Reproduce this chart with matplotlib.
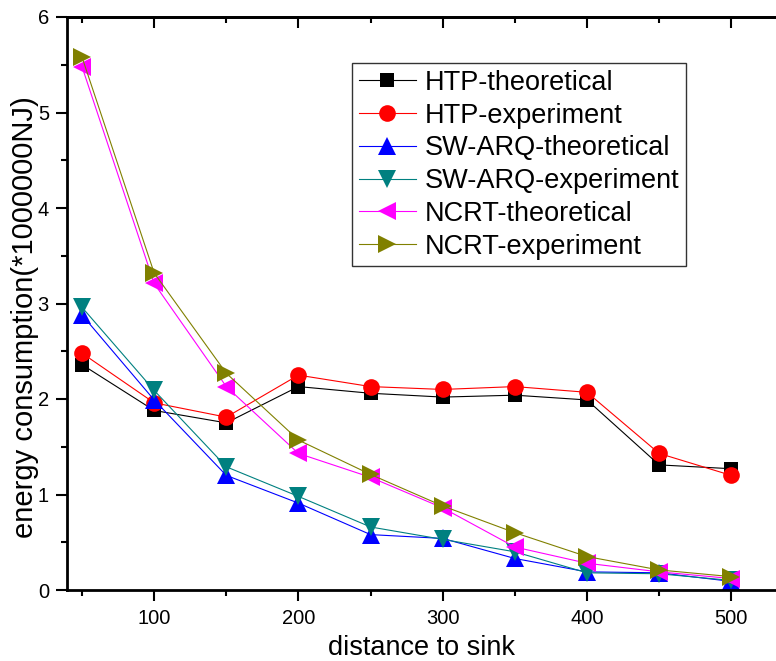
import matplotlib.pyplot as plt
from matplotlib.ticker import MultipleLocator

plt.rcParams['font.family'] = ['Liberation Sans', 'DejaVu Sans']

distance = [50, 100, 150, 200, 250, 300, 350, 400, 450, 500]
htp_theo = [2.36, 1.88, 1.75, 2.13, 2.06, 2.02, 2.04, 1.99, 1.31, 1.27]
htp_exp = [2.48, 1.96, 1.81, 2.25, 2.13, 2.10, 2.13, 2.07, 1.43, 1.20]
sw_theo = [2.88, 1.99, 1.20, 0.91, 0.58, 0.54, 0.33, 0.19, 0.18, 0.09]
sw_exp = [2.96, 2.09, 1.29, 0.98, 0.66, 0.53, 0.40, 0.18, 0.17, 0.10]
ncrt_theo = [5.48, 3.21, 2.13, 1.43, 1.18, 0.86, 0.45, 0.28, 0.19, 0.12]
ncrt_exp = [5.58, 3.32, 2.27, 1.57, 1.21, 0.88, 0.60, 0.35, 0.21, 0.14]

names = ['HTP-theoretical', 'HTP-experiment', 'SW-ARQ-theoretical',
         'SW-ARQ-experiment', 'NCRT-theoretical', 'NCRT-experiment']
series = [htp_theo, htp_exp, sw_theo, sw_exp, ncrt_theo, ncrt_exp]
colors = ['black', 'red', 'blue', '#008080', 'magenta', '#808000']
markers = ['s', 'o', '^', 'v', '<', '>']
msizes = [10, 12, 12.5, 12.5, 12.5, 12.5]

fig = plt.figure(figsize=(7.76, 6.61), dpi=100)
ax = fig.add_axes([67/776, 71/661, 709/776, 573/661])

for ys, name, c, m, ms in zip(series, names, colors, markers, msizes):
    ax.plot(distance, ys, color=c, marker=m, markersize=ms, lw=0.8,
            markeredgewidth=0, label=name)

ax.set_xlim(39.6, 531)
ax.set_ylim(0, 6)
ax.xaxis.set_major_locator(MultipleLocator(100))
ax.xaxis.set_minor_locator(MultipleLocator(50))
ax.yaxis.set_major_locator(MultipleLocator(1))
ax.yaxis.set_minor_locator(MultipleLocator(0.5))
ax.tick_params(which='both', direction='out', width=1.5, labelsize=14.5)
ax.tick_params(which='major', length=8)
ax.tick_params(which='minor', length=4.5)
ax.tick_params(axis='x', which='major', pad=6)
ax.tick_params(axis='y', which='major', pad=5)

# top axis: ticks only, pointing inward
sec = ax.secondary_xaxis('top')
sec.xaxis.set_major_locator(MultipleLocator(100))
sec.xaxis.set_minor_locator(MultipleLocator(50))
sec.tick_params(which='both', direction='in', width=1.5, labeltop=False)
sec.tick_params(which='major', length=8)
sec.tick_params(which='minor', length=4.5)
for s in ['left', 'bottom', 'top']:
    ax.spines[s].set_linewidth(2)
sec.spines['top'].set_linewidth(2)
ax.spines['right'].set_visible(False)

ax.set_xlabel('distance to sink', fontsize=19.5, labelpad=5)
ax.set_ylabel('energy consumption(*1000000NJ)', fontsize=21)
ax.yaxis.set_label_coords(-0.04, 0.476)

leg = ax.legend(loc='upper left', bbox_to_anchor=(352/776, 1 - 63/661),
                bbox_transform=fig.transFigure, fontsize=19.5, frameon=True,
                fancybox=False, edgecolor='black', handlelength=2.1,
                handletextpad=0.33, labelspacing=0.25, borderpad=0.25,
                borderaxespad=0)
leg.get_frame().set_linewidth(1)

fig.savefig('out.png', dpi=100)
